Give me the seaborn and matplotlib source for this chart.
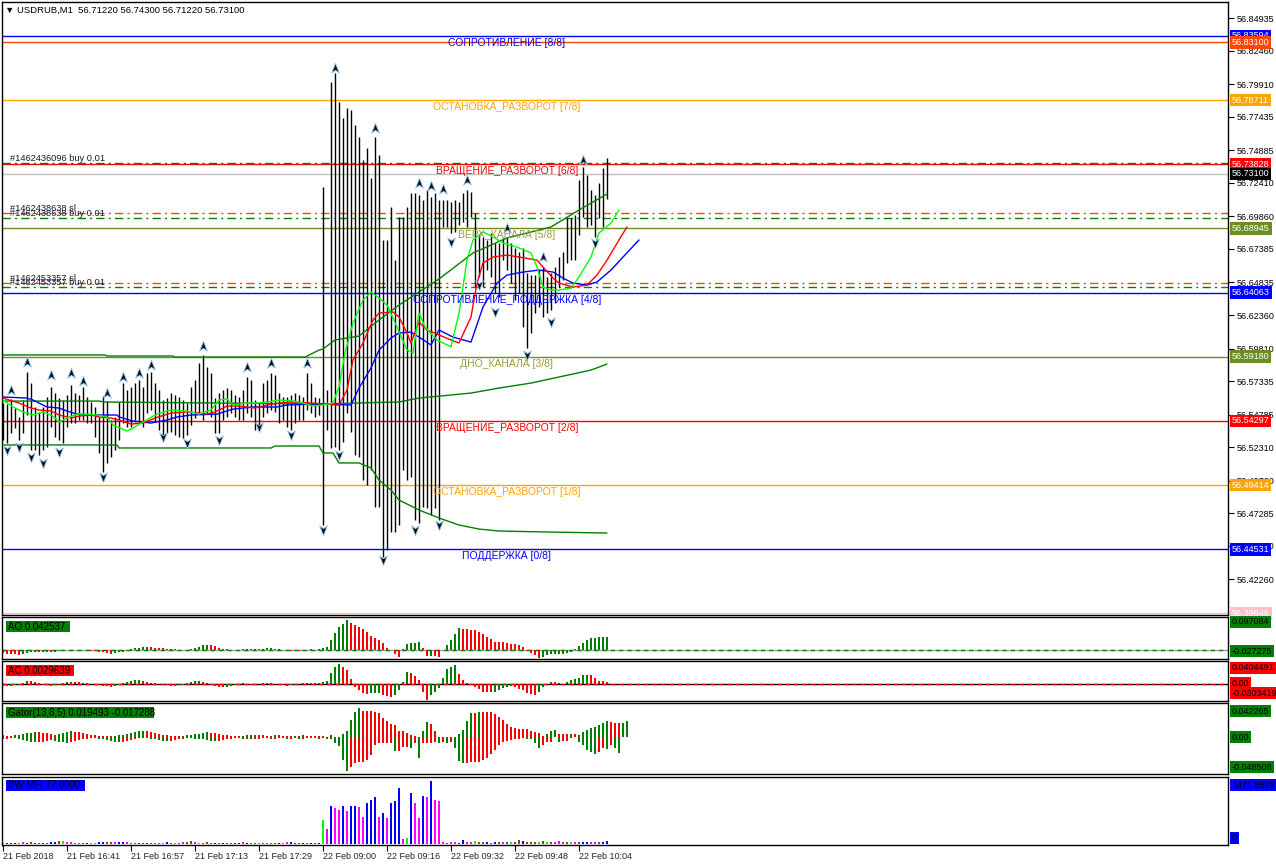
import numpy as np
import matplotlib
matplotlib.use("Agg")
import matplotlib.pyplot as plt
import seaborn as sns
from matplotlib.path import Path
from matplotlib.patches import Rectangle

# ---------------- DATA ----------------
header_text = "▼ USDRUB,M1  56.71220 56.74300 56.71220 56.73100"

bar_high = [
    56.5564, 56.5560, 56.5600, 56.5525, 56.5462, 56.5589, 56.5805, 56.5716, 56.5538, 56.5500,
    56.5538, 56.5614, 56.5690, 56.5640, 56.5602, 56.5589, 56.5627, 56.5703, 56.5640, 56.5627,
    56.5690, 56.5614, 56.5576, 56.5538, 56.5462, 56.5620, 56.5580, 56.5437, 56.5462, 56.5576,
    56.5716, 56.5665, 56.5690, 56.5716, 56.5741, 56.5690, 56.5792, 56.5805, 56.5716, 56.5665,
    56.5589, 56.5602, 56.5640, 56.5627, 56.5614, 56.5589, 56.5564, 56.5690, 56.5741, 56.5868,
    56.5931, 56.5843, 56.5792, 56.5602, 56.5640, 56.5665, 56.5678, 56.5665, 56.5627, 56.5614,
    56.5665, 56.5767, 56.5741, 56.5589, 56.5564, 56.5716, 56.5741, 56.5792, 56.5779, 56.5640,
    56.5614, 56.5614, 56.5627, 56.5640, 56.5627, 56.5614, 56.5792, 56.5716, 56.5614, 56.5602,
    56.7210, 56.5665, 56.8009, 56.8077, 56.7857, 56.7735, 56.7811, 56.7796, 56.7682, 56.7590,
    56.7415, 56.7507, 56.7278, 56.7590, 56.7453, 56.6807, 56.6807, 56.7058, 56.6654, 56.6982,
    56.6982, 56.7058, 56.7164, 56.7164, 56.7149, 56.7111, 56.7187, 56.7134, 56.7164, 56.7111,
    56.7111, 56.7111, 56.7096, 56.7111, 56.7096, 56.7164, 56.7187, 56.7172, 56.7012, 56.6845,
    56.6830, 56.6807, 56.6860, 56.6784, 56.6784, 56.6822, 56.6822, 56.6784, 56.6746, 56.6715,
    56.6746, 56.6555, 56.6540, 56.6540, 56.6578, 56.6601, 56.6525, 56.6555, 56.6601, 56.6677,
    56.6715, 56.6974, 56.6974, 56.6997, 56.7263, 56.7362, 56.7301, 56.7187, 56.7149, 56.7240,
    56.7354, 56.7430]
bar_low = [
    56.5285, 56.5259, 56.5335, 56.5373, 56.5285, 56.5335, 56.5475, 56.5208, 56.5208, 56.5170,
    56.5208, 56.5234, 56.5386, 56.5310, 56.5285, 56.5259, 56.5386, 56.5411, 56.5411, 56.5437,
    56.5437, 56.5411, 56.5411, 56.5310, 56.5183, 56.5043, 56.5107, 56.5158, 56.5208, 56.5285,
    56.5411, 56.5386, 56.5386, 56.5424, 56.5411, 56.5386, 56.5487, 56.5513, 56.5424, 56.5361,
    56.5310, 56.5335, 56.5348, 56.5323, 56.5310, 56.5297, 56.5323, 56.5399, 56.5449, 56.5487,
    56.5437, 56.5487, 56.5462, 56.5335, 56.5335, 56.5437, 56.5462, 56.5487, 56.5462, 56.5437,
    56.5437, 56.5487, 56.5462, 56.5361, 56.5399, 56.5462, 56.5487, 56.5513, 56.5500, 56.5411,
    56.5437, 56.5386, 56.5361, 56.5411, 56.5437, 56.5437, 56.5513, 56.5487, 56.5462, 56.5475,
    56.4638, 56.5361, 56.5224, 56.5231, 56.5208, 56.5269, 56.5490, 56.5345, 56.5171, 56.5155,
    56.4980, 56.4942, 56.5056, 56.4775, 56.4775, 56.4394, 56.4448, 56.4584, 56.4584, 56.4638,
    56.5056, 56.4980, 56.5003, 56.4676, 56.4653, 56.4775, 56.4767, 56.4714, 56.4767, 56.4676,
    56.6906, 56.6906, 56.6860, 56.6868, 56.6921, 56.6944, 56.6906, 56.6982, 56.6449, 56.6525,
    56.6449, 56.6578, 56.6525, 56.6403, 56.6373, 56.6654, 56.6578, 56.6479, 56.6350, 56.6403,
    56.6145, 56.5985, 56.6099, 56.6251, 56.6297, 56.6221, 56.6251, 56.6274, 56.6327, 56.6449,
    56.6502, 56.6632, 56.6654, 56.6654, 56.6845, 56.6982, 56.6906, 56.6921, 56.6830, 56.6974,
    56.6906, 56.7122]

# Alligator (jaw / teeth / lips), read at bar positions
jaw_idx = [0, 6, 7.5, 11, 14, 16, 18.5, 21, 28.5, 29, 32.5, 37, 41, 43.5, 47, 53.5, 57.5, 62.5, 68.5, 71,
           79, 87, 89, 92, 94, 97, 99, 102, 104, 107, 109, 112.5, 117, 120, 123.5, 126, 130, 134, 137.5, 140,
           142.5, 146, 148.5, 152, 155, 159]
jaw_val = [56.5612, 56.5604, 56.5589, 56.5536, 56.5528, 56.5505, 56.5482, 56.5475, 56.5475, 56.5460,
           56.5429, 56.5414, 56.5437, 56.5460, 56.5475, 56.5482, 56.5520, 56.5536, 56.5536, 56.5551,
           56.5559, 56.5551, 56.5680, 56.5833, 56.5969, 56.6061, 56.6099, 56.6106, 56.6068, 56.6008,
           56.6122, 56.6068, 56.6030, 56.6297, 56.6479, 56.6540, 56.6563, 56.6578, 56.6563, 56.6517,
           56.6479, 56.6464, 56.6487, 56.6578, 56.6677, 56.6807]
teeth_idx = [0, 4, 7, 9, 12, 14, 17, 19, 22, 24, 27, 29, 32, 35, 38, 42, 46, 49, 51, 53,
             56, 59, 63, 66, 69, 72, 77, 84, 86, 87.5, 90, 92.5, 94, 97.5, 99, 101, 102, 104, 106, 109,
             112, 114, 117, 118.5, 120, 122.5, 126, 129, 133.5, 135, 137.5, 139, 142.5, 146, 148.5, 151, 154, 156]
teeth_val = [56.5604, 56.5566, 56.5528, 56.5513, 56.5505, 56.5475, 56.5452, 56.5467, 56.5475, 56.5460,
             56.5452, 56.5437, 56.5406, 56.5414, 56.5452, 56.5490, 56.5498, 56.5490, 56.5482, 56.5498,
             56.5543, 56.5543, 56.5528, 56.5551, 56.5566, 56.5574, 56.5566, 56.5551, 56.5665, 56.5893,
             56.6023, 56.6198, 56.6251, 56.6259, 56.6221, 56.6099, 56.6023, 56.6183, 56.6122, 56.6084,
             56.6046, 56.6023, 56.6221, 56.6479, 56.6632, 56.6677, 56.6692, 56.6677, 56.6654, 56.6601,
             56.6517, 56.6479, 56.6449, 56.6464, 56.6540, 56.6654, 56.6807, 56.6906]
lips_idx = [0, 2.5, 5, 7.5, 10, 12.5, 14, 16, 18.5, 21, 23.5, 26, 27.5, 31, 32.5, 35, 38.5, 42, 46, 49,
            52, 54, 56, 57.5, 61, 63.5, 66, 69, 72.5, 75, 77.5, 80, 82.5, 84, 85.5, 87.5, 90, 92, 94, 96,
            98.5, 101, 102.5, 104, 105.5, 108.5, 112, 114, 116, 117.5, 120, 122.5, 125, 128.5, 132, 133.5,
            135, 137, 139, 142, 144, 147, 149, 152, 154]
lips_val = [56.5589, 56.5536, 56.5498, 56.5475, 56.5498, 56.5467, 56.5422, 56.5452, 56.5482, 56.5482,
            56.5475, 56.5460, 56.5399, 56.5353, 56.5376, 56.5422, 56.5482, 56.5513, 56.5505, 56.5482,
            56.5513, 56.5589, 56.5597, 56.5551, 56.5566, 56.5566, 56.5574, 56.5589, 56.5582, 56.5566,
            56.5543, 56.5551, 56.5566, 56.5688, 56.5947, 56.6175, 56.6350, 56.6411, 56.6365, 56.6312,
            56.6145, 56.5969, 56.5947, 56.6251, 56.6145, 56.6046, 56.5993, 56.6251, 56.6654, 56.6807,
            56.6868, 56.6830, 56.6784, 56.6753, 56.6708, 56.6601, 56.6449, 56.6426, 56.6426, 56.6441,
            56.6525, 56.6677, 56.6860, 56.6936, 56.7035]

# Channel lines
chan_up_idx = [0, 25.5, 26, 42.5, 43, 75.5, 79, 80, 83, 89, 94, 99, 104, 109, 117.5, 126, 137, 144, 151]
chan_up_val = [56.5932, 56.5932, 56.5924, 56.5924, 56.5916, 56.5916, 56.5969, 56.5977, 56.6046, 56.6076,
               56.6198, 56.6312, 56.6411, 56.6510, 56.6708, 56.6822, 56.6906, 56.7035, 56.7157]
chan_mid_idx = [0, 24, 25.5, 79, 99, 104, 117, 124, 132, 139, 147, 151]
chan_mid_val = [56.5581, 56.5581, 56.5574, 56.5559, 56.5574, 56.5604, 56.5642, 56.5680, 56.5718, 56.5764,
                56.5817, 56.5863]
chan_low_idx = [0, 28.5, 29, 67, 68, 79, 80, 82.5, 84, 89, 92, 94, 97, 99, 104, 109, 114, 119, 124, 137, 151]
chan_low_val = [56.5247, 56.5247, 56.5224, 56.5224, 56.5239, 56.5239, 56.5186, 56.5186, 56.5110, 56.5110,
                56.5072, 56.4980, 56.4904, 56.4828, 56.4752, 56.4691, 56.4638, 56.4607, 56.4592, 56.4584,
                56.4577]

# Fractal marks
fr_up_idx = [2, 6, 12, 17, 20, 26, 30, 34, 37, 50, 61, 67, 76, 83, 93, 104, 107, 110, 116, 126, 135, 145]
fr_up_val = [56.5665, 56.5878, 56.5779, 56.5794, 56.5734, 56.5642, 56.5764, 56.5794, 56.5855, 56.6000,
             56.5840, 56.5871, 56.5871, 56.8116, 56.7659, 56.7240, 56.7218, 56.7195, 56.7263, 56.6898,
             56.6677, 56.7415]
fr_dn_idx = [1, 4, 7, 10, 14, 25, 40, 46, 54, 64, 72, 80, 84, 95, 103, 109, 112, 119, 123, 131, 137, 148]
fr_dn_val = [56.5208, 56.5231, 56.5155, 56.5110, 56.5193, 56.5003, 56.5307, 56.5262, 56.5285, 56.5384,
             56.5323, 56.4600, 56.5171, 56.4371, 56.4600, 56.4638, 56.6791, 56.6464, 56.6259, 56.5932,
             56.6183, 56.6784]

# Murrey levels
murrey_prices = [56.83594, 56.78711, 56.73828, 56.68945, 56.64063, 56.59180, 56.54297, 56.49414, 56.44531]
murrey_names = ["СОПРОТИВЛЕНИЕ [8/8]", "ОСТАНОВКА_РАЗВОРОТ [7/8]", "ВРАЩЕНИЕ_РАЗВОРОТ [6/8]",
                "ВЕРХ_КАНАЛА [5/8]", "СОПРОТИВЛЕНИЕ_ПОДДЕРЖКА [4/8]", "ДНО_КАНАЛА [3/8]",
                "ВРАЩЕНИЕ_РАЗВОРОТ [2/8]", "ОСТАНОВКА_РАЗВОРОТ [1/8]", "ПОДДЕРЖКА [0/8]"]
murrey_line_colors = ["#0000FF", "#FFA500", "#FF0000", "#6B8E23", "#0000FF", "#6B8E23", "#FF0000", "#FFA500", "#0000FF"]
murrey_text_colors = ["#0000FF", "#FFA500", "#FF0000", "#9C9C3A", "#0000FF", "#9C9C3A", "#FF0000", "#FFA500", "#0000FF"]
extra_levels = [56.83100, 56.39648]
extra_colors = ["#FF4500", "#FFC0CB"]
bid_price = 56.73100

# Orders
order_labels = ["#1462436096 buy 0.01", "#1462438638 sl", "#1462438638 buy 0.01",
                "#1462453357 sl", "#1462453357 buy 0.01"]
order_prices = [56.7390, 56.7014, 56.6972, 56.6482, 56.6449]
order_kind = ["buy", "sl", "buy", "sl", "buy"]

# Price axis
tick_vals = [56.84935, 56.82460, 56.79910, 56.77435, 56.74885, 56.72410, 56.69860, 56.67385, 56.64835,
             56.62360, 56.59810, 56.57335, 56.54785, 56.52310, 56.49760, 56.47285, 56.44810, 56.42260]
box_prices = [56.83594, 56.83100, 56.78711, 56.73828, 56.73100, 56.68945, 56.64063, 56.59180, 56.54297,
              56.49414, 56.44531, 56.39648]
box_bg = ["#0000FF", "#FF4500", "#FFA500", "#FF0000", "#000000", "#6B8E23", "#0000FF", "#6B8E23", "#FF0000",
          "#FFA500", "#0000FF", "#FFC0CB"]

# AO
ao_vals = [
    -0.010, -0.012, -0.013, -0.014, -0.017, -0.012, -0.009, -0.008, -0.007, -0.008,
    -0.007, -0.006, -0.007, -0.005, -0.004, -0.002, -0.001, 0.000, 0.001, 0.000,
    -0.001, -0.0012, -0.002, -0.003, -0.005, -0.008, -0.011, -0.012, -0.010, -0.008,
    -0.005, -0.003, 0.002, 0.006, 0.008, 0.009, 0.0095, 0.009, 0.008, 0.007,
    0.006, 0.004, 0.003, 0.002, 0.001, 0.000, 0.001, 0.003, 0.006, 0.010,
    0.015, 0.017, 0.016, 0.012, 0.008, 0.004, 0.002, 0.001, 0.000, 0.001,
    0.002, 0.003, 0.004, 0.003, 0.0032, 0.004, 0.005, 0.0055, 0.004, 0.003,
    0.001, -0.001, -0.002, -0.001, -0.002, 0.000, 0.001, 0.002, 0.001, 0.002,
    0.0055, 0.011, 0.033, 0.057, 0.076, 0.085, 0.097, 0.089, 0.082, 0.074,
    0.068, 0.059, 0.046, 0.038, 0.033, 0.022, 0.008, -0.001, -0.014, -0.022,
    0.004, 0.020, 0.023, 0.024, 0.025, 0.005, -0.019, -0.018, -0.019, -0.022,
    0.001, 0.016, 0.033, 0.052, 0.071, 0.069, 0.068, 0.067, 0.065, 0.058,
    0.051, 0.044, 0.036, 0.027, 0.026, 0.025, 0.022, 0.020, 0.019, 0.017,
    0.011, -0.002, -0.009, -0.016, -0.025, -0.022, -0.016, -0.014, -0.0135, -0.013,
    -0.012, -0.011, -0.005, 0.002, 0.013, 0.024, 0.033, 0.039, 0.040, 0.041,
    0.042, 0.0425]
# AC
ac_vals = [
    -0.004, -0.004, -0.003, -0.002, -0.001, 0.002, 0.005, 0.005, 0.003, 0.001,
    -0.001, -0.002, -0.003, -0.002, -0.001, 0.001, 0.003, 0.004, 0.004, 0.003,
    0.002, 0.001, 0.000, -0.001, -0.002, -0.003, -0.004, -0.005, -0.004, -0.002,
    0.001, 0.004, 0.006, 0.007, 0.0072, 0.005, 0.003, 0.002, 0.001, 0.000,
    -0.001, -0.002, -0.003, -0.0032, -0.002, -0.001, 0.001, 0.003, 0.005, 0.006,
    0.004, 0.002, -0.001, -0.003, -0.005, -0.006, -0.005, -0.003, -0.001, 0.000,
    0.001, 0.000, -0.001, -0.0012, 0.000, 0.001, 0.002, 0.001, 0.000, -0.001,
    -0.002, -0.003, -0.002, -0.001, 0.000, 0.001, 0.002, 0.0022, 0.001, 0.002,
    0.004, 0.005, 0.021, 0.032, 0.037, 0.032, 0.026, 0.009, -0.005, -0.011,
    -0.016, -0.019, -0.017, -0.0165, -0.016, -0.020, -0.022, -0.024, -0.020, -0.011,
    0.004, 0.022, 0.020, 0.015, 0.007, -0.014, -0.029, -0.021, -0.014, -0.008,
    0.011, 0.027, 0.031, 0.035, 0.019, 0.007, 0.002, 0.000, -0.005, -0.009,
    -0.014, -0.015, -0.0155, -0.015, -0.011, -0.008, -0.006, -0.004, -0.005, -0.009,
    -0.011, -0.016, -0.019, -0.020, -0.014, -0.005, 0.000, 0.004, 0.0035, 0.001,
    0.000, 0.004, 0.007, 0.009, 0.012, 0.016, 0.017, 0.016, 0.011, 0.006,
    0.005, 0.003]
# Gator (upper magnitude, lower magnitude), extends 5 bars beyond the last price bar
gator_up = [
    .0027, .0022, .0022, .0027, .0033, .0049, .0060, .0071, .0076, .0076,
    .0071, .0060, .0049, .0038, .0049, .0071, .0087, .0092, .0087, .0076,
    .0060, .0043, .0033, .0027, .0022, .0022, .0016, .0016, .0022, .0027,
    .0038, .0049, .0060, .0081, .0092, .0098, .0092, .0081, .0065, .0049,
    .0038, .0027, .0022, .0016, .0016, .0022, .0027, .0033, .0043, .0054,
    .0065, .0076, .0071, .0060, .0049, .0038, .0027, .0022, .0016, .0016,
    .0022, .0027, .0033, .0038, .0033, .0027, .0022, .0022, .0027, .0027,
    .0022, .0016, .0016, .0022, .0022,
    .0027, .0016, .0016, .0016, .0016, .0016, .0005, .0027, .0005, .0005,
    .0049, .0103, .0277, .0413, .0467, .0429, .0425, .0420, .0413, .0386,
    .0304, .0266, .0212, .0195, .0103, .0103, .0071, .0033, .0016, .0005,
    .0103, .0239, .0212, .0103, .0005, .0003, .0003, .0003, .0003, .0049,
    .0114, .0261, .0386, .0386, .0407, .0407, .0407, .0407, .0375, .0320,
    .0277, .0206, .0168, .0141, .0125, .0125, .0125, .0103, .0087, .0071,
    .0022, .0049, .0103, .0114, .0049, .0049, .0043, .0049, .0049, .0033,
    .0087, .0114, .0141, .0157, .0195, .0233, .0261, .0239, .0233, .0223,
    .0233, .0261]
gator_lo = [
    .0027, .0027, .0016, .0022, .0033, .0049, .0065, .0076, .0081, .0081,
    .0076, .0060, .0049, .0065, .0076, .0087, .0092, .0081, .0060, .0049,
    .0038, .0027, .0022, .0022, .0027, .0038, .0049, .0065, .0076, .0087,
    .0081, .0065, .0049, .0033, .0022, .0016, .0022, .0027, .0038, .0049,
    .0060, .0065, .0060, .0049, .0038, .0027, .0022, .0022, .0027, .0033,
    .0038, .0049, .0060, .0065, .0060, .0049, .0038, .0027, .0022, .0022,
    .0027, .0027, .0033, .0033, .0027, .0022, .0022, .0027, .0027, .0022,
    .0022, .0027, .0027, .0022, .0027,
    .0027, .0022, .0016, .0022, .0027, .0022, .0027, .0027, .0092, .0147,
    .0375, .0548, .0483, .0418, .0402, .0402, .0375, .0293, .0130, .0092,
    .0092, .0092, .0092, .0223, .0223, .0168, .0157, .0185, .0092, .0337,
    .0103, .0103, .0103, .0076, .0092, .0076, .0103, .0076, .0185, .0391,
    .0418, .0418, .0402, .0402, .0402, .0375, .0348, .0282, .0212, .0130,
    .0076, .0060, .0049, .0038, .0027, .0022, .0027, .0038, .0092, .0185,
    .0130, .0076, .0076, .0005, .0076, .0065, .0065, .0022, .0005, .0076,
    .0130, .0212, .0239, .0277, .0239, .0185, .0201, .0130, .0185, .0255,
    0.0, 0.0]
# BW MFI
mfi_vals = [
    15, 20, 30, 35, 25, 40, 20, 45, 15, 20, 35, 30, 45, 55, 60, 70, 50, 45, 35, 35,
    30, 30, 25, 30, 40, 45, 45, 40, 40, 50, 45, 40, 35, 30, 30, 35, 35, 35, 30, 30,
    35, 40, 35, 30, 35, 45, 40, 60, 45, 30, 35, 40, 30, 30, 25, 30, 30, 35, 30, 35,
    40, 35, 30, 30, 25, 20, 30, 30, 30, 35, 30, 40, 40, 30, 25, 25, 25, 25, 30, 35,
    562, 351, 889, 842, 796, 889, 772, 889, 889, 866, 632, 959, 1030, 1100, 632, 725, 608, 959, 1006, 1310,
    117, 140, 1193, 959, 608, 1123, 1100, 1472, 1030, 1006,
    40, 35, 45, 40, 35, 95, 40, 45, 60, 50, 40, 45, 35, 50, 45, 40, 45, 50, 55, 95,
    60, 50, 55, 50, 45, 60, 55, 50, 45, 60, 55, 45, 50, 45, 40, 50, 55, 45, 50, 45, 55, 77]
mfi_codes = ("gbbbgpbnbp" "bpbbngpppp" "nbggbbnnpb" "bpppbnbppp" "gbngppnnpg" "pnpbpbnnbb" "pbpngpppnb" "gpbnnbpbnb"
             "gpbppbpbbp" "pbbbpbpbbb" "pgbppbpbpp"
             "ppppbbppgn" "nbpbnpngnn" "bnnngngnpp" "pngpnbbppn" "bb")
mfi_palette = {"g": "#00FF00", "n": "#8B4513", "b": "#0000FF", "p": "#FF00FF"}

time_idx = [0, 16, 32, 48, 64, 80, 96, 112, 128, 144]
time_labels = ["21 Feb 2018", "21 Feb 16:41", "21 Feb 16:57", "21 Feb 17:13", "21 Feb 17:29",
               "22 Feb 09:00", "22 Feb 09:16", "22 Feb 09:32", "22 Feb 09:48", "22 Feb 10:04"]

# ---------------- DRAW ----------------
sns.set_theme(style="white")
plt.rcParams["font.family"] = ["Liberation Sans", "DejaVu Sans"]

W, H = 1276, 866
fig = plt.figure(figsize=(W / 100, H / 100), dpi=100)
fig.patch.set_facecolor("white")

XMIN, XMAX = -0.25, 306.25


def add_ax(top, bottom, left=2, right=1228):
    a = fig.add_axes([left / W, 1 - bottom / H, (right - left) / W, (bottom - top) / H])
    a.set_facecolor("white")
    for s in a.spines.values():
        s.set_color("black")
        s.set_linewidth(1.0)
    a.set_xlim(XMIN, XMAX)
    a.tick_params(axis="x", bottom=False, labelbottom=False)
    a.yaxis.tick_right()
    a.tick_params(axis="y", right=True, left=False, direction="out", length=4, width=0.8,
                  color="black", labelsize=6.5, pad=2, labelcolor="black")
    a.grid(False)
    return a


def fig_label(x_px, y_px, text, fg, bg, size=6.5):
    fig.text(x_px / W, 1 - y_px / H, text, ha="left", va="center", fontsize=size, color=fg,
             bbox=dict(boxstyle="square,pad=0.18", fc=bg, ec="none"), zorder=20)


def fig_rect(x0, y0, x1, y1, color):
    fig.add_artist(Rectangle((x0 / W, 1 - y1 / H), (x1 - x0) / W, (y1 - y0) / H,
                             transform=fig.transFigure, fc=color, ec="none", zorder=15))


# ---- main price panel ----
ax = add_ax(2, 615)
ax.set_ylim(56.3953, 56.8618)
idx = np.arange(len(bar_high))

for p, c in zip(murrey_prices, murrey_line_colors):
    ax.axhline(p, color=c, lw=1.0, zorder=2)
for p, c in zip(extra_levels, extra_colors):
    ax.axhline(p, color=c, lw=1.0, zorder=2)
ax.axhline(bid_price, color="#C0C0C0", lw=1.0, zorder=2)
for p, k in zip(order_prices, order_kind):
    ax.axhline(p, color="#008000" if k == "buy" else "#FF4500", lw=1.0,
               ls=(0, (6, 3, 1.5, 3)), zorder=2.2)

ax.vlines(idx, bar_low, bar_high, color="black", lw=1.0, zorder=3)

for xs, ys in [(chan_up_idx, chan_up_val), (chan_mid_idx, chan_mid_val), (chan_low_idx, chan_low_val)]:
    sns.lineplot(x=xs, y=ys, ax=ax, color="#008000", lw=1.0, estimator=None, sort=False, legend=False, zorder=4)
sns.lineplot(x=jaw_idx, y=jaw_val, ax=ax, color="#0000FF", lw=1.0, estimator=None, sort=False, legend=False, zorder=5)
sns.lineplot(x=teeth_idx, y=teeth_val, ax=ax, color="#FF0000", lw=1.0, estimator=None, sort=False, legend=False, zorder=5)
sns.lineplot(x=lips_idx, y=lips_val, ax=ax, color="#00FF00", lw=1.0, estimator=None, sort=False, legend=False, zorder=5)

up_marker = Path([(0, 1), (0.75, -0.9), (0, -0.35), (-0.75, -0.9), (0, 1)],
                 [Path.MOVETO, Path.LINETO, Path.LINETO, Path.LINETO, Path.CLOSEPOLY])
dn_marker = Path([(0, -1), (0.75, 0.9), (0, 0.35), (-0.75, 0.9), (0, -1)],
                 [Path.MOVETO, Path.LINETO, Path.LINETO, Path.LINETO, Path.CLOSEPOLY])
ax.scatter(fr_up_idx, fr_up_val, marker=up_marker, s=55, c="#101010", edgecolors="#8FC8F0", linewidths=0.6, zorder=6)
ax.scatter(fr_dn_idx, fr_dn_val, marker=dn_marker, s=55, c="#101010", edgecolors="#8FC8F0", linewidths=0.6, zorder=6)

for p, name, c in zip(murrey_prices, murrey_names, murrey_text_colors):
    ax.annotate(name, xy=(126, p), xytext=(0, -7), textcoords="offset pixels", ha="center", va="center",
                color=c, fontsize=7.5, zorder=7)

for p, lbl in zip(order_prices, order_labels):
    ax.annotate(lbl, xy=(1.75, p), xytext=(0, 0), textcoords="offset pixels", ha="left", va="bottom",
                color="#1A1A30", fontsize=6.7, zorder=7)

ax.set_yticks(tick_vals)
ax.set_yticklabels([f"{v:.5f}" for v in tick_vals])
ax.set_xlabel("")
ax.set_ylabel("")

for v, bg in zip(box_prices, box_bg):
    ax.annotate(f"{v:.5f}", xy=(1, v), xycoords=("axes fraction", "data"), xytext=(4, 0),
                textcoords="offset pixels", ha="left", va="center", fontsize=6.5, color="white",
                bbox=dict(boxstyle="square,pad=0.2", fc=bg, ec="none"), annotation_clip=False, zorder=10)

fig.text(5 / W, 1 - 10 / H, header_text, ha="left", va="center", fontsize=6.8, color="black")


def up_colors(vals):
    cols = []
    for i, v in enumerate(vals):
        cols.append("#008000" if i > 0 and v > vals[i - 1] else "#FF0000")
    return cols


# ---- AO ----
ax_ao = add_ax(617, 659)
ax_ao.set_ylim(-0.0294, 0.1079)
ax_ao.axhline(0, color="#A0A0A0", lw=1.0, zorder=1)
ax_ao.axhline(0, color="#008000", lw=1.0, ls=(0, (3, 3)), zorder=1.1)
ax_ao.bar(np.arange(len(ao_vals)), ao_vals, width=0.72, color=up_colors(ao_vals), lw=0, zorder=2)
ax_ao.set_yticks([])

# ---- AC ----
ax_ac = add_ax(661, 701)
ax_ac.set_ylim(-0.0316, 0.0428)
ax_ac.axhline(0, color="black", lw=1.0, zorder=1)
ax_ac.axhline(0, color="#FF0000", lw=1.0, ls=(0, (3, 3)), zorder=1.1)
ax_ac.bar(np.arange(len(ac_vals)), ac_vals, width=0.72, color=up_colors(ac_vals), lw=0, zorder=2)
ax_ac.set_yticks([])

# ---- Gator ----
ax_g = add_ax(703, 774)
ax_g.set_ylim(-0.0603, 0.0554)
gidx = np.arange(len(gator_up))
ax_g.bar(gidx, gator_up, width=0.72, color=up_colors(gator_up), lw=0, zorder=2)
ax_g.bar(gidx, [-v for v in gator_lo], width=0.72, color=up_colors(gator_lo), lw=0, zorder=2)
ax_g.set_yticks([])

# ---- BW MFI ----
ax_m = add_ax(777, 845)
ax_m.set_ylim(-23, 1568)
ax_m.bar(np.arange(len(mfi_vals)), mfi_vals, width=0.72, color=[mfi_palette[c] for c in mfi_codes], lw=0, zorder=2)
ax_m.set_yticks([])
ax_m.tick_params(axis="x", bottom=True, labelbottom=True, direction="out", length=4, width=0.8,
                 color="black", labelsize=6.5, pad=1)
ax_m.set_xticks(time_idx)
ax_m.set_xticklabels(time_labels, ha="left")
ax_m.set_xlim(XMIN, XMAX)

# ---- sub-panel value boxes ----
fig_label(1232, 622, "0.097084", "black", "#008000")
fig_label(1232, 651, "-0.027275", "black", "#008000")
fig_label(1232, 668, "0.0404491", "black", "#FF0000")
fig_label(1232, 683, "0.00", "black", "#FF0000")
fig_label(1232, 693, "-0.0303419", "black", "#FF0000")
fig_label(1232, 711, "0.042265", "black", "#008000")
fig_label(1232, 737, "0.00", "black", "#008000")
fig_label(1232, 767, "-0.048508", "black", "#008000")
fig_label(1232, 785, "1471.8529", "black", "#0000FF")
fig_label(1232, 838, "0", "black", "#0000FF")

# ---- indicator titles ----
fig_rect(6, 621, 70, 632, "#008000")
fig.text(8 / W, 1 - 626.5 / H, "AO 0.042537", ha="left", va="center", fontsize=7, color="black", zorder=16)
fig_rect(6, 665, 74, 676, "#FF0000")
fig.text(8 / W, 1 - 670.5 / H, "AC 0.0029639", ha="left", va="center", fontsize=7, color="black", zorder=16)
fig_rect(6, 707, 154, 718, "#008000")
fig.text(8 / W, 1 - 712.5 / H, "Gator(13,8,5) 0.019493 -0.017288", ha="left", va="center", fontsize=7,
         color="black", zorder=16)
fig_rect(6, 780, 85, 791, "#0000FF")
fig.text(8 / W, 1 - 785.5 / H, "BW MFI 77.0000", ha="left", va="center", fontsize=7, color="black", zorder=16)

fig.savefig("out.png", dpi=100, facecolor="white")
